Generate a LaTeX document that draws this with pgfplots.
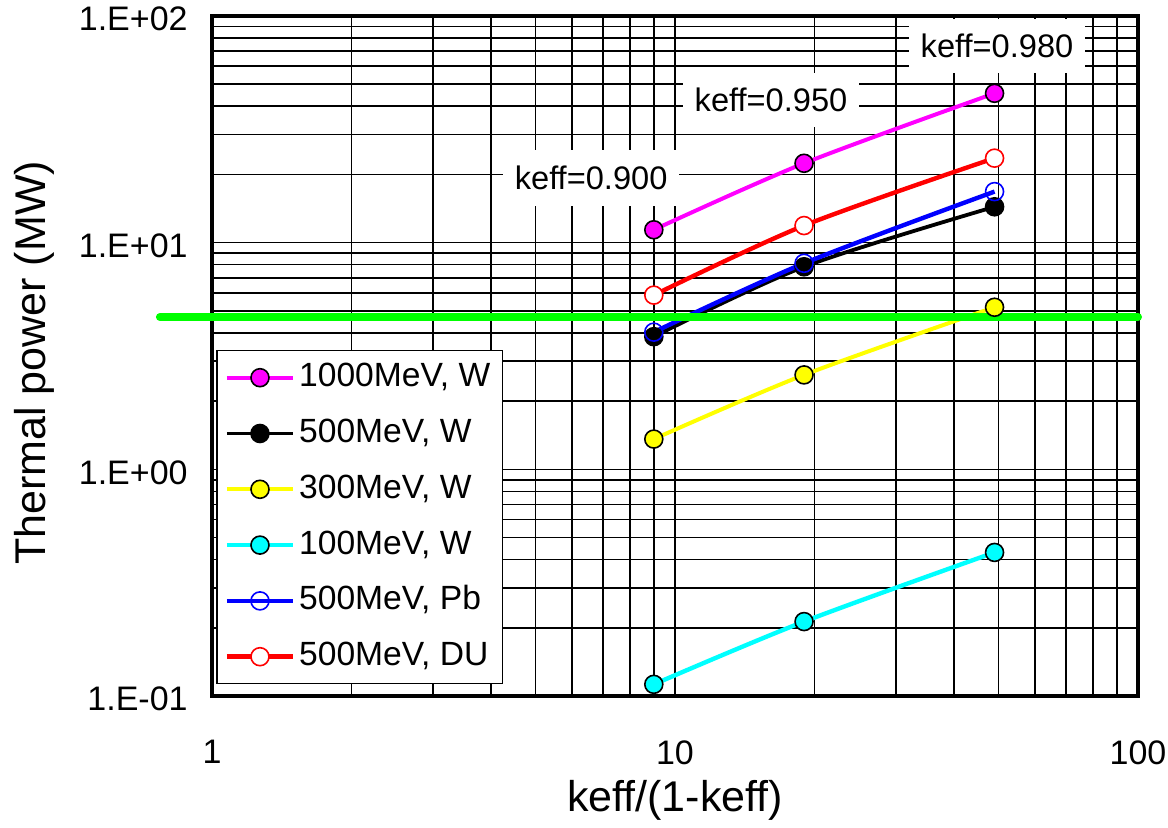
\documentclass[border=0pt]{standalone}
\usepackage{pgfplots}
\pgfplotsset{compat=1.18}
\usepackage{fontspec}
\setmainfont{Liberation Sans}
\definecolor{xmag}{RGB}{255,0,255}
\definecolor{xyel}{RGB}{255,255,0}
\definecolor{xcya}{RGB}{0,255,255}
\definecolor{xblu}{RGB}{0,0,255}
\definecolor{xred}{RGB}{255,0,0}
\definecolor{xgrn}{RGB}{0,255,0}
\begin{document}
\begin{tikzpicture}
\path[use as bounding box] (-106pt,-65.5pt) rectangle (478pt,348pt);
\begin{axis}[
  at={(0,0)}, anchor=south west,
  scale only axis, width=463pt, height=340pt,
  xmode=log, ymode=log,
  xmin=1, xmax=100, ymin=0.1, ymax=100,
  xtick={1,10,100}, xticklabels={1,10,100},
  ytick={0.1,1,10,100}, yticklabels={1.E-01,1.E+00,1.E+01,1.E+02},
  minor xtick={2,3,4,5,6,7,8,9,20,30,40,50,60,70,80,90},
  minor ytick={0.2,0.3,0.4,0.5,0.6,0.7,0.8,0.9,2,3,4,5,6,7,8,9,20,30,40,50,60,70,80,90},
  grid=both,
  major grid style={black, line width=0.8pt},
  minor grid style={black, line width=0.8pt},
  major tick length=0pt, minor tick length=0pt,
  axis line style={line width=1.6pt},
  ticklabel style={font=\fontsize{17}{20}\selectfont},
  yticklabel style={inner sep=0pt, anchor=east, xshift=-12pt, yshift=-1.5pt},
  xticklabel style={inner sep=0pt, anchor=north, yshift=-22pt},
  xlabel={keff/(1-keff)}, ylabel={Thermal power (MW)},
  label style={font=\fontsize{21.5}{26}\selectfont},
  xlabel style={at={(axis description cs:0.5,-0.153)}, anchor=center},
  ylabel style={at={(axis description cs:-0.1917,0.49)}, anchor=center},
  clip=false,
  legend cell align=left,
  legend style={at={(rel axis cs:0.0043,0.509)}, anchor=north west, draw=black, line width=0.8pt, fill=white,
    font=\fontsize{16.8}{20}\selectfont, inner xsep=4pt, inner ysep=3.5pt, row sep=7.9pt,
    nodes={text height=12.5pt, text depth=3.5pt, inner sep=2pt},
    /tikz/every even column/.append style={column sep=5.5pt}},
  legend image code/.code={\draw[mark repeat=2,mark phase=2,#1] plot coordinates {(0pt,0pt)(16.5pt,0pt)(33pt,0pt)};},
]
\addplot[xmag, line width=2pt, smooth, mark=*, mark size=4.5pt, mark options={solid, fill=xmag, draw=black, line width=0.8pt}]
  coordinates {(9,11.4)(19,22.4)(49,45.6)};
\addlegendentry{1000MeV, W}
\addplot[black, line width=1.9pt, smooth, mark=*, mark size=4.5pt, mark options={solid, fill=black, draw=black, line width=0.8pt}]
  coordinates {(9,3.85)(19,7.83)(49,14.4)};
\addlegendentry{500MeV, W}
\addplot[xyel, line width=2pt, smooth, mark=*, mark size=4.5pt, mark options={solid, fill=xyel, draw=black, line width=0.8pt}]
  coordinates {(9,1.36)(19,2.61)(49,5.19)};
\addlegendentry{300MeV, W}
\addplot[xcya, line width=2.2pt, smooth, mark=*, mark size=4.5pt, mark options={solid, fill=xcya, draw=black, line width=0.8pt}]
  coordinates {(9,0.1126)(19,0.213)(49,0.430)};
\addlegendentry{100MeV, W}
\addplot[xblu, line width=2.2pt, smooth, mark=o, mark size=4.5pt, mark options={solid, draw=xblu, line width=0.8pt}]
  coordinates {(9,4.03)(19,8.11)(49,16.8)};
\addlegendentry{500MeV, Pb}
\addplot[xred, line width=2.2pt, smooth, mark=*, mark size=4.5pt, mark options={solid, fill=white, draw=xred, line width=0.8pt}]
  coordinates {(9,5.87)(19,11.9)(49,23.6)};
\addlegendentry{500MeV, DU}
\addplot[xgrn, line width=4pt, line cap=round, forget plot] coordinates {(0.772,4.7)(100,4.7)};
\node[fill=white, minimum width=88pt, minimum height=28pt, inner sep=0pt, font=\fontsize{16.3}{19}\selectfont] at (axis cs:6.59,19.3) {keff=0.900};
\node[fill=white, minimum width=88pt, minimum height=27pt, inner sep=0pt, font=\fontsize{16.3}{19}\selectfont] at (axis cs:16.12,42.6) {keff=0.950};
\node[fill=white, minimum width=88pt, minimum height=27pt, inner sep=0pt, font=\fontsize{16.3}{19}\selectfont] at (axis cs:49.6,73.8) {keff=0.980};
\end{axis}
\end{tikzpicture}
\end{document}
